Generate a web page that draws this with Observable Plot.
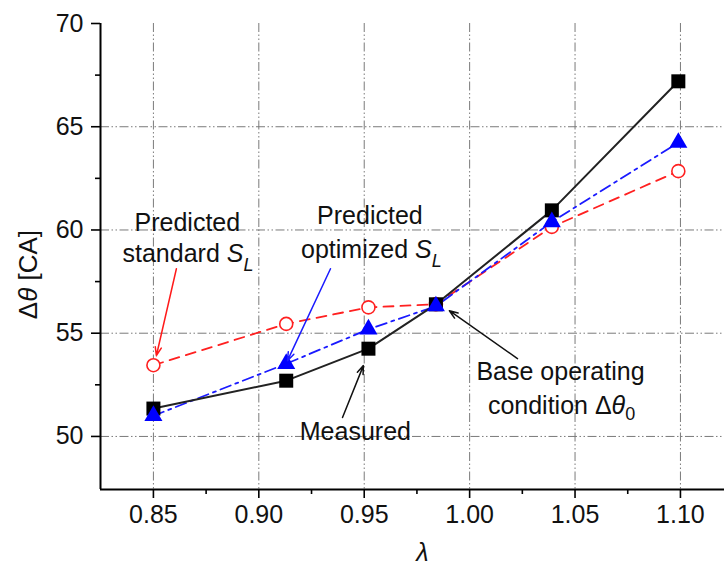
<!DOCTYPE html>
<html>
<head>
<meta charset="utf-8">
<script src="https://cdn.jsdelivr.net/npm/d3@7"></script>
<script src="https://cdn.jsdelivr.net/npm/@observablehq/plot@0.6"></script>
<style>
  html, body { margin: 0; padding: 0; background: #fff; }
  svg { display: block; }
</style>
</head>
<body>
<div id="chart"></div>
<script>
// Relative air-fuel ratio λ and combustion duration Δθ [CA]
const lambda = [0.85, 0.913, 0.952, 0.984, 1.039, 1.099];
const measured = [51.35, 52.7, 54.25, 56.4, 60.95, 67.2];
const predictedStandard = [53.45, 55.45, 56.25, 56.4, 60.15, 62.85];
const predictedOptimized = [51.0, 53.52, 55.19, 56.31, 60.39, 64.23];

// Axis ticks
const xTicks = [0.85, 0.90, 0.95, 1.00, 1.05, 1.10];
const xMinorTicks = [0.875, 0.925, 0.975, 1.025, 1.075];
const yTicks = [50, 55, 60, 65, 70];
const yMinorTicks = [52.5, 57.5, 62.5, 67.5];
const yGrid = [50, 55, 60, 65];
const xDomain = [0.8249, 1.1209];
const yDomain = [47.43, 70];

// Callout labels ({x} italic, {_x} italic subscript, {.x} upright subscript)
const noteText = ["Predicted", "standard {S}{_L}", "Predicted", "optimized {S}{_L}",
                  "Measured", "Base operating", "condition Δ{θ}{.0}"];
const noteX = [0.8661, 0.8664, 0.9527, 0.9534, 0.9458, 1.0431, 1.0436];
const noteY = [59.97, 58.47, 60.31, 58.66, 49.85, 52.71, 51.11];

// Callout arrows
const arrowColor = ["#ff1a1a", "#1a1aff", "#111111", "#111111"];
const arrowX1 = [0.8609, 0.9340, 0.9397, 1.0227];
const arrowY1 = [58.12, 58.12, 50.92, 53.77];
const arrowX2 = [0.8514, 0.9136, 0.9496, 0.9904];
const arrowY2 = [53.91, 53.67, 53.43, 56.09];

// Axis titles, placed in data units
const yTitle = [{text: "Δ{θ} [CA]", x: 0.7907, y: 57.84}];
const xTitle = [{text: "{λ}", x: 0.9776}];

const rows = lambda.map((l, i) => ({
  lambda: l,
  measured: measured[i],
  standard: predictedStandard[i],
  optimized: predictedOptimized[i]
}));
const notes = noteText.map((t, i) => ({text: t, x: noteX[i], y: noteY[i]}));
const arrows = arrowColor.map((c, i) => ({color: c, x1: arrowX1[i], y1: arrowY1[i], x2: arrowX2[i], y2: arrowY2[i]}));

const grid = {stroke: "#7a7a7a", strokeWidth: 1, strokeDasharray: "9,2.5,1.5,2.5,1.5,2.5"};
const fmt = d3.format(".2f");

const chart = Plot.plot({
  width: 724,
  height: 573,
  marginLeft: 100,
  marginRight: 0,
  marginTop: 23,
  marginBottom: 84,
  x: {domain: xDomain},
  y: {domain: yDomain},
  color: {type: "identity"},
  style: {fontFamily: "'Liberation Sans', Arial, sans-serif", fontSize: "25px", color: "#000", background: "#fff"},
  marks: [
    Plot.ruleX(xTicks, grid),
    Plot.ruleY(yGrid, grid),
    Plot.line(rows, {x: "lambda", y: "standard", stroke: "#ff2020", strokeWidth: 1.8, strokeDasharray: "10,7"}),
    Plot.line(rows, {x: "lambda", y: "optimized", stroke: "#1a1aff", strokeWidth: 1.8, strokeDasharray: "11,5,3,5"}),
    Plot.line(rows, {x: "lambda", y: "measured", stroke: "#222", strokeWidth: 2}),
    Plot.dot(rows, {x: "lambda", y: "standard", r: 6.5, stroke: "#ff2020", fill: "#fff", strokeWidth: 1.6}),
    Plot.dot(rows, {x: "lambda", y: "measured", symbol: "square", r: 7.9, fill: "#000", stroke: "none"}),
    Plot.dot(rows, {x: "lambda", y: "optimized", symbol: "triangle", r: 6.7, fill: "#0000ff", stroke: "none"}),
    Plot.arrow(arrows, {x1: "x1", y1: "y1", x2: "x2", y2: "y2", stroke: "color", strokeWidth: 1.5, headLength: 9, headAngle: 40}),
    Plot.text(notes, {x: "x", y: "y", text: "text", lineAnchor: "bottom", textAnchor: "middle", fill: "#111", fontSize: 25}),
    // axis lines
    Plot.ruleX([xDomain[0]], {stroke: "#000", strokeWidth: 2}),
    Plot.ruleY([yDomain[0]], {stroke: "#000", strokeWidth: 2}),
    // ticks and tick labels
    Plot.axisX(xTicks, {tickSize: 9, tickPadding: 7, tickFormat: fmt, label: null, strokeWidth: 1.6, fontSize: 25, fill: "#111"}),
    Plot.axisX(xMinorTicks, {tickSize: 5, tickFormat: () => "", label: null, strokeWidth: 1.6}),
    Plot.axisY(yTicks, {tickSize: 9, tickPadding: 8, label: null, strokeWidth: 1.6, fontSize: 25, fill: "#111"}),
    Plot.axisY(yMinorTicks, {tickSize: 5, tickFormat: () => "", label: null, strokeWidth: 1.6}),
    // axis titles
    Plot.text(yTitle, {x: "x", y: "y", text: "text", rotate: -90, fontSize: 26, fill: "#111"}),
    Plot.text(xTitle, {frameAnchor: "bottom", x: "x", text: "text", dy: 71, fontSize: 25, fill: "#111"})
  ]
});

// Turn the brace markup into italic / subscript tspans
function applyRichText(svg) {
  svg.querySelectorAll("text").forEach(el => {
    if (el.children.length) return;
    const s = el.textContent;
    if (!s.includes("{")) return;
    el.textContent = "";
    const re = /\{([_.]?)([^}]*)\}|([^{]+)/g;
    let m;
    while ((m = re.exec(s))) {
      const t = document.createElementNS("http://www.w3.org/2000/svg", "tspan");
      if (m[3] !== undefined) {
        t.textContent = m[3];
      } else {
        t.textContent = m[2];
        if (m[1] !== ".") t.setAttribute("font-style", "italic");
        if (m[1]) {
          t.setAttribute("dy", m[1] === "_" ? "0.5em" : "0.35em");
          t.setAttribute("font-size", "0.72em");
        }
      }
      el.appendChild(t);
    }
  });
}
applyRichText(chart);
document.getElementById("chart").appendChild(chart);
</script>
</body>
</html>
